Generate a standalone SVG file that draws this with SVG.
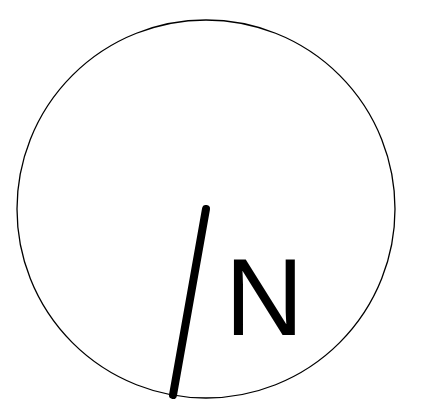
<svg xmlns="http://www.w3.org/2000/svg" width="434" height="405" viewBox="0 0 434 405">
<style>
.ring{fill:none;stroke:#000;stroke-width:1.3}
.needle{stroke:#000;stroke-width:8;stroke-linecap:round}
.lbl{font-family:"Liberation Sans",Arial,sans-serif;font-size:109px;fill:#000}
</style>
<rect width="434" height="405" fill="#fff"/>
<g id="dial"><circle class="ring" cx="206" cy="209" r="189"/></g>
<g id="connectors"><line class="needle" x1="206" y1="209" x2="173" y2="395"/></g>
<g id="label"><text class="lbl" x="225" y="335">N</text></g>
</svg>
